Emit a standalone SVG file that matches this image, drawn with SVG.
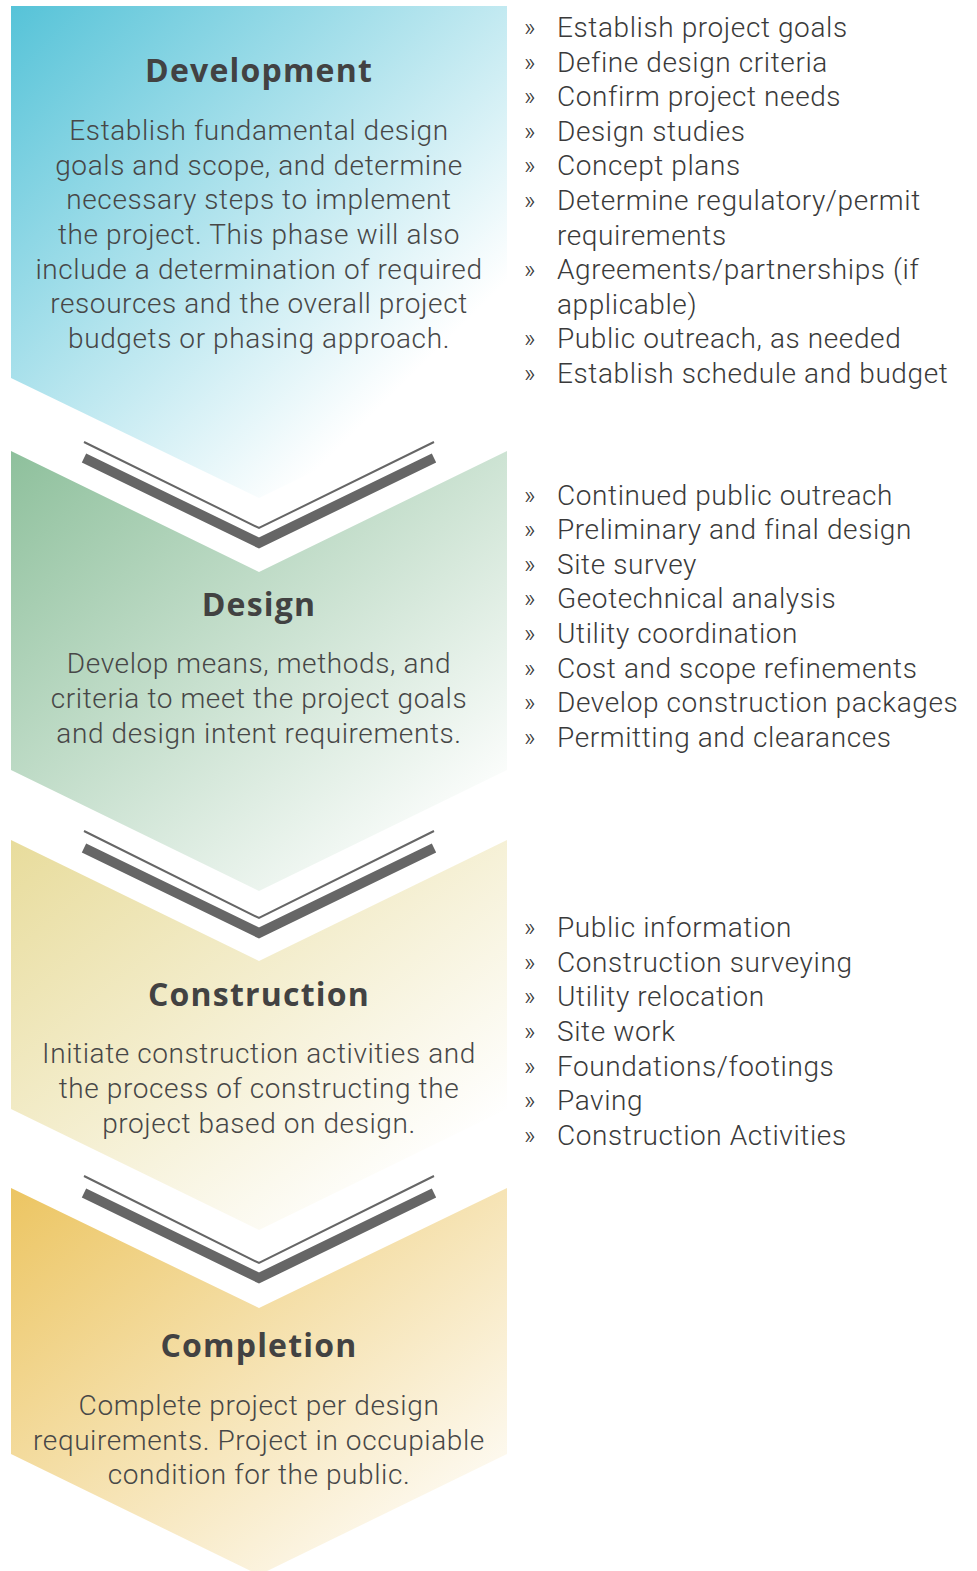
<svg xmlns="http://www.w3.org/2000/svg" width="977" height="1571" viewBox="0 0 977 1571">
<defs>
<linearGradient id="gDev" x1="0" y1="0" x2="1" y2="1"><stop offset="0" stop-color="#56c3d8"/><stop offset="0.78" stop-color="#ffffff"/></linearGradient>
<linearGradient id="gDes" x1="0" y1="0" x2="1" y2="1"><stop offset="0" stop-color="#8ec09c"/><stop offset="0.9" stop-color="#ffffff"/></linearGradient>
<linearGradient id="gCon" x1="0" y1="0" x2="1" y2="1"><stop offset="0" stop-color="#e8dc9c"/><stop offset="0.85" stop-color="#ffffff"/></linearGradient>
<linearGradient id="gCom" x1="0" y1="0" x2="1" y2="1"><stop offset="0" stop-color="#ecc562"/><stop offset="0.95" stop-color="#ffffff"/></linearGradient>
</defs>
<style>
.title{font-family:"Open Sans","Liberation Sans",sans-serif;font-weight:700;font-size:32px;letter-spacing:1.2px;fill:#424242;text-anchor:middle}
.body{font-family:Roboto,"Liberation Sans",sans-serif;font-weight:300;font-size:28px;letter-spacing:0.6px;fill:#474747;text-anchor:middle}
.li{font-family:Roboto,"Liberation Sans",sans-serif;font-weight:300;font-size:28px;letter-spacing:0.6px;fill:#3a3a3a}
.bu{font-family:Roboto,"Liberation Sans",sans-serif;font-weight:300;font-size:25px;fill:#3a3a3a}
.thin{fill:none;stroke:#666;stroke-width:2}
.thick{fill:none;stroke:#666;stroke-width:10;stroke-linejoin:miter;stroke-miterlimit:10}
</style>
<rect width="977" height="1571" fill="#ffffff"/>

<g id="development">
<polygon points="11,6 507,6 507,378 259,498 11,378" fill="url(#gDev)"/>
<text class="title" x="259" y="82">Development</text>
<text class="body" x="259" y="140">Establish fundamental design</text>
<text class="body" x="259" y="175">goals and scope, and determine</text>
<text class="body" x="259" y="209">necessary steps to implement</text>
<text class="body" x="259" y="244">the project. This phase will also</text>
<text class="body" x="259" y="279">include a determination of required</text>
<text class="body" x="259" y="313">resources and the overall project</text>
<text class="body" x="259" y="348">budgets or phasing approach.</text>
</g>

<g id="design">
<polygon points="11,451 259,572 507,451 507,770 259,891 11,770" fill="url(#gDes)"/>
<text class="title" x="259" y="616">Design</text>
<text class="body" x="259" y="673">Develop means, methods, and</text>
<text class="body" x="259" y="708">criteria to meet the project goals</text>
<text class="body" x="259" y="743">and design intent requirements.</text>
</g>

<g id="construction">
<polygon points="11,840 259,961 507,840 507,1109 259,1230 11,1109" fill="url(#gCon)"/>
<text class="title" x="259" y="1006">Construction</text>
<text class="body" x="259" y="1063">Initiate construction activities and</text>
<text class="body" x="259" y="1098">the process of constructing the</text>
<text class="body" x="259" y="1133">project based on design.</text>
</g>

<g id="completion">
<polygon points="11,1188 259,1308 507,1188 507,1454 259,1575 11,1454" fill="url(#gCom)"/>
<text class="title" x="259" y="1357">Completion</text>
<text class="body" x="259" y="1415">Complete project per design</text>
<text class="body" x="259" y="1450">requirements. Project in occupiable</text>
<text class="body" x="259" y="1484">condition for the public.</text>
</g>

<g id="connectors">
<polyline class="thin" points="84,442 259,528 434,442"/>
<polyline class="thick" points="84,458 259,543 434,458"/>
<polyline class="thin" points="84,831 259,918 434,831"/>
<polyline class="thick" points="84,848 259,933 434,848"/>
<polyline class="thin" points="84,1176 259,1263 434,1176"/>
<polyline class="thick" points="84,1193 259,1278 434,1193"/>
</g>

<g id="list-development">
<text class="bu" x="524" y="36">»</text><text class="li" x="557" y="37">Establish project goals</text>
<text class="bu" x="524" y="71">»</text><text class="li" x="557" y="72">Define design criteria</text>
<text class="bu" x="524" y="105">»</text><text class="li" x="557" y="106">Confirm project needs</text>
<text class="bu" x="524" y="140">»</text><text class="li" x="557" y="141">Design studies</text>
<text class="bu" x="524" y="174">»</text><text class="li" x="557" y="175">Concept plans</text>
<text class="bu" x="524" y="209">»</text><text class="li" x="557" y="210">Determine regulatory/permit</text>
<text class="li" x="557" y="245">requirements</text>
<text class="bu" x="524" y="278">»</text><text class="li" x="557" y="279">Agreements/partnerships (if</text>
<text class="li" x="557" y="314">applicable)</text>
<text class="bu" x="524" y="347">»</text><text class="li" x="557" y="348">Public outreach, as needed</text>
<text class="bu" x="524" y="382">»</text><text class="li" x="557" y="383">Establish schedule and budget</text>
</g>

<g id="list-design">
<text class="bu" x="524" y="504">»</text><text class="li" x="557" y="505">Continued public outreach</text>
<text class="bu" x="524" y="538">»</text><text class="li" x="557" y="539">Preliminary and final design</text>
<text class="bu" x="524" y="573">»</text><text class="li" x="557" y="574">Site survey</text>
<text class="bu" x="524" y="607">»</text><text class="li" x="557" y="608">Geotechnical analysis</text>
<text class="bu" x="524" y="642">»</text><text class="li" x="557" y="643">Utility coordination</text>
<text class="bu" x="524" y="677">»</text><text class="li" x="557" y="678">Cost and scope refinements</text>
<text class="bu" x="524" y="711">»</text><text class="li" x="557" y="712">Develop construction packages</text>
<text class="bu" x="524" y="746">»</text><text class="li" x="557" y="747">Permitting and clearances</text>
</g>

<g id="list-construction">
<text class="bu" x="524" y="936">»</text><text class="li" x="557" y="937">Public information</text>
<text class="bu" x="524" y="971">»</text><text class="li" x="557" y="972">Construction surveying</text>
<text class="bu" x="524" y="1005">»</text><text class="li" x="557" y="1006">Utility relocation</text>
<text class="bu" x="524" y="1040">»</text><text class="li" x="557" y="1041">Site work</text>
<text class="bu" x="524" y="1075">»</text><text class="li" x="557" y="1076">Foundations/footings</text>
<text class="bu" x="524" y="1109">»</text><text class="li" x="557" y="1110">Paving</text>
<text class="bu" x="524" y="1144">»</text><text class="li" x="557" y="1145">Construction Activities</text>
</g>
</svg>
